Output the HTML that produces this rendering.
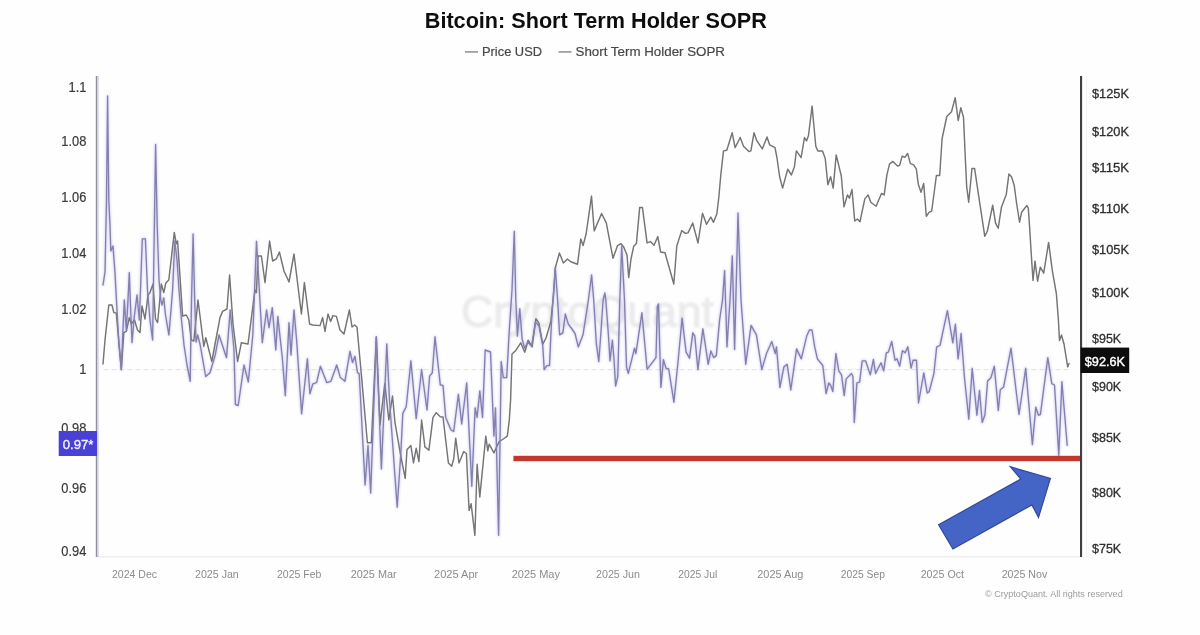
<!DOCTYPE html>
<html><head><meta charset="utf-8"><title>Bitcoin: Short Term Holder SOPR</title>
<style>
html,body{margin:0;padding:0;background:#fefefe;}
body{width:1200px;height:635px;overflow:hidden;font-family:"Liberation Sans",sans-serif;}
svg{display:block;position:absolute;left:0;top:0;}
text{font-family:"Liberation Sans",sans-serif;}
</style></head><body>
<svg width="1200" height="635" viewBox="0 0 1200 635">
<defs><filter id="b" x="-5%" y="-5%" width="110%" height="110%"><feGaussianBlur stdDeviation="0.45"/></filter>
<filter id="b3" x="-2%" y="-2%" width="104%" height="104%"><feGaussianBlur stdDeviation="0.7"/></filter>
<filter id="b2" x="-5%" y="-20%" width="110%" height="140%"><feGaussianBlur stdDeviation="1.1"/></filter></defs>
<rect x="0" y="0" width="1200" height="635" fill="#fefefe"/>

<text x="595.8" y="28.4" font-size="21.5" font-weight="bold" fill="#111" text-anchor="middle" textLength="342" lengthAdjust="spacingAndGlyphs" filter="url(#b)">Bitcoin: Short Term Holder SOPR</text>
<g filter="url(#b)" fill="#484848" stroke="#484848" stroke-width="0.2" font-size="13">
<rect x="465" y="51.4" width="13" height="1.1" fill="#666" stroke="none"/>
<text x="482" y="56.3" textLength="60" lengthAdjust="spacingAndGlyphs">Price USD</text>
<rect x="558.5" y="51.4" width="13" height="1.1" fill="#666" stroke="none"/>
<text x="575.5" y="56.3" textLength="149.5" lengthAdjust="spacingAndGlyphs">Short Term Holder SOPR</text>
</g>
<text x="461" y="326.7" font-size="44.7" fill="#ebebeb" stroke="#ebebeb" stroke-width="1.1" textLength="253" lengthAdjust="spacingAndGlyphs" filter="url(#b2)">CryptoQuant</text>
<line x1="103.5" y1="369.7" x2="1071.5" y2="369.7" stroke="#e5e5e5" stroke-width="1.2" stroke-dasharray="5 3"/>
<line x1="97" y1="556.8" x2="1081" y2="556.8" stroke="#ededed" stroke-width="1.2"/>
<g filter="url(#b)" fill="#3a3a3a" stroke="#3a3a3a" stroke-width="0.2" font-size="14.3" text-anchor="end">
<text transform="translate(86.4 92.0) scale(0.9 1)">1.1</text>
<text transform="translate(86.4 146.2) scale(0.9 1)">1.08</text>
<text transform="translate(86.4 201.6) scale(0.9 1)">1.06</text>
<text transform="translate(86.4 257.8) scale(0.9 1)">1.04</text>
<text transform="translate(86.4 314.0) scale(0.9 1)">1.02</text>
<text transform="translate(86.4 373.6) scale(0.9 1)">1</text>
<text transform="translate(86.4 432.6) scale(0.9 1)">0.98</text>
<text transform="translate(86.4 492.9) scale(0.9 1)">0.96</text>
<text transform="translate(86.4 555.6) scale(0.9 1)">0.94</text>
</g>
<g filter="url(#b)" fill="#2e2e2e" stroke="#2e2e2e" stroke-width="0.3" font-size="13">
<text x="1092" y="98.4" textLength="37" lengthAdjust="spacingAndGlyphs">$125K</text>
<text x="1092" y="135.7" textLength="37" lengthAdjust="spacingAndGlyphs">$120K</text>
<text x="1092" y="172.4" textLength="37" lengthAdjust="spacingAndGlyphs">$115K</text>
<text x="1092" y="213.0" textLength="37" lengthAdjust="spacingAndGlyphs">$110K</text>
<text x="1092" y="253.9" textLength="37" lengthAdjust="spacingAndGlyphs">$105K</text>
<text x="1092" y="297.2" textLength="37" lengthAdjust="spacingAndGlyphs">$100K</text>
<text x="1092" y="343.1" textLength="29.2" lengthAdjust="spacingAndGlyphs">$95K</text>
<text x="1092" y="390.8" textLength="29.2" lengthAdjust="spacingAndGlyphs">$90K</text>
<text x="1092" y="442.2" textLength="29.2" lengthAdjust="spacingAndGlyphs">$85K</text>
<text x="1092" y="496.5" textLength="29.2" lengthAdjust="spacingAndGlyphs">$80K</text>
<text x="1092" y="553.2" textLength="29.2" lengthAdjust="spacingAndGlyphs">$75K</text>
</g>
<g filter="url(#b)" fill="#8c8c8c" font-size="11.5">
<text x="112.0" y="578.4" textLength="45.0" lengthAdjust="spacingAndGlyphs">2024 Dec</text>
<text x="195.0" y="578.4" textLength="43.8" lengthAdjust="spacingAndGlyphs">2025 Jan</text>
<text x="277.0" y="578.4" textLength="44.3" lengthAdjust="spacingAndGlyphs">2025 Feb</text>
<text x="350.7" y="578.4" textLength="46.0" lengthAdjust="spacingAndGlyphs">2025 Mar</text>
<text x="434.0" y="578.4" textLength="44.3" lengthAdjust="spacingAndGlyphs">2025 Apr</text>
<text x="511.7" y="578.4" textLength="48.3" lengthAdjust="spacingAndGlyphs">2025 May</text>
<text x="596.0" y="578.4" textLength="44.0" lengthAdjust="spacingAndGlyphs">2025 Jun</text>
<text x="678.3" y="578.4" textLength="39.0" lengthAdjust="spacingAndGlyphs">2025 Jul</text>
<text x="757.3" y="578.4" textLength="46.0" lengthAdjust="spacingAndGlyphs">2025 Aug</text>
<text x="840.7" y="578.4" textLength="44.3" lengthAdjust="spacingAndGlyphs">2025 Sep</text>
<text x="920.7" y="578.4" textLength="43.3" lengthAdjust="spacingAndGlyphs">2025 Oct</text>
<text x="1001.7" y="578.4" textLength="45.6" lengthAdjust="spacingAndGlyphs">2025 Nov</text>
</g>
<text x="985" y="597.3" font-size="9.5" fill="#9c9c9c" textLength="137.7" lengthAdjust="spacingAndGlyphs" filter="url(#b)">© CryptoQuant. All rights reserved</text>
<g fill="none" stroke-linejoin="round" stroke-linecap="round" filter="url(#b3)">
<path d="M103.0 285.0 L105.0 272.0 L106.5 200.0 L107.6 96.0 L108.8 200.0 L110.0 225.0 L110.8 251.0 L113.0 246.0 L115.0 273.0 L117.0 310.0 L119.0 345.0 L121.3 369.0 L122.5 340.0 L124.3 300.0 L126.3 330.0 L128.0 300.0 L129.3 272.6 L130.5 305.0 L132.0 342.6 L134.5 315.0 L137.0 295.0 L139.3 320.0 L140.5 290.0 L142.3 238.8 L145.4 238.8 L147.5 290.0 L150.0 320.0 L152.6 340.0 L154.0 250.0 L155.6 144.5 L157.2 225.0 L159.0 280.0 L160.8 300.0 L162.0 305.0 L163.8 298.0 L165.5 315.0 L168.9 335.0 L171.0 310.0 L172.6 290.0 L174.8 241.0 L177.0 260.0 L179.0 290.0 L181.5 320.0 L184.0 345.0 L187.0 365.0 L190.2 381.3 L191.5 300.0 L193.1 234.0 L194.7 300.0 L196.0 342.0 L197.7 335.0 L200.2 345.0 L205.7 376.5 L210.0 372.7 L215.2 355.0 L219.0 335.0 L226.5 357.7 L230.2 310.0 L234.0 350.0 L235.4 404.5 L238.2 405.6 L244.0 365.0 L248.3 382.0 L252.8 335.0 L256.5 241.3 L262.3 342.7 L266.6 310.0 L269.0 327.7 L272.3 307.6 L275.8 350.0 L277.8 316.4 L282.3 357.7 L285.3 395.6 L289.0 322.6 L291.0 355.0 L294.0 310.0 L296.6 340.0 L301.6 413.9 L307.4 358.8 L309.9 393.8 L312.9 383.8 L316.6 382.6 L320.4 366.3 L326.7 382.6 L330.9 381.3 L336.7 365.0 L340.4 377.6 L344.9 381.3 L350.0 351.3 L352.5 362.5 L355.0 356.3 L357.5 372.6 L359.2 373.8 L365.1 485.0 L368.0 445.5 L370.7 493.0 L376.3 337.0 L381.4 469.0 L386.8 344.0 L389.5 400.0 L397.2 507.2 L400.8 453.5 L402.8 413.4 L406.2 406.7 L410.9 360.8 L416.2 418.7 L421.6 369.5 L427.0 410.0 L429.6 376.2 L432.3 372.8 L435.0 336.7 L440.3 384.9 L443.0 385.5 L445.7 417.4 L451.0 430.0 L453.7 431.5 L458.4 394.3 L461.7 424.0 L466.7 382.9 L471.8 486.4 L475.1 408.0 L477.1 417.4 L479.8 390.9 L482.5 417.4 L485.2 350.0 L490.5 352.0 L493.9 436.0 L495.5 408.0 L498.6 535.3 L501.2 361.5 L503.3 377.6 L506.7 377.6 L509.3 330.0 L512.0 290.0 L514.3 231.3 L515.8 300.0 L517.4 336.1 L519.8 308.7 L522.1 338.8 L524.5 348.0 L528.0 342.0 L531.5 346.0 L535.5 322.0 L539.0 326.0 L542.8 346.0 L544.2 369.6 L546.9 365.6 L549.5 365.6 L551.5 321.4 L555.3 267.6 L557.6 300.0 L559.6 334.8 L562.9 332.8 L565.3 314.0 L568.3 324.0 L572.3 329.5 L575.0 333.5 L578.3 346.9 L583.0 334.8 L588.4 300.0 L591.6 275.0 L593.7 300.0 L596.4 344.2 L598.8 361.6 L600.4 340.0 L603.1 300.0 L604.9 293.0 L605.8 300.0 L608.4 334.8 L610.0 360.9 L612.4 340.2 L613.8 356.2 L615.6 386.0 L617.8 376.3 L619.8 300.0 L621.7 246.3 L624.5 300.0 L626.5 367.0 L628.3 373.4 L631.9 358.9 L634.5 348.2 L635.9 353.5 L641.9 312.7 L647.1 369.3 L656.0 357.6 L657.3 306.7 L658.5 303.9 L660.9 387.4 L663.4 359.6 L666.1 368.3 L668.7 369.0 L673.9 402.2 L678.0 362.0 L682.1 318.1 L686.1 352.2 L689.5 358.2 L692.8 332.8 L694.8 336.1 L697.9 369.6 L702.9 328.8 L708.2 364.3 L710.9 350.9 L713.6 357.6 L716.3 355.6 L719.6 320.1 L722.5 300.0 L724.6 270.6 L727.0 346.9 L730.0 300.0 L732.3 255.9 L734.6 349.5 L738.0 213.0 L741.0 300.0 L745.7 364.3 L751.1 325.4 L756.4 334.8 L761.8 369.6 L766.5 353.5 L771.8 341.5 L775.2 353.5 L776.5 346.9 L779.9 387.5 L783.9 366.9 L787.2 364.3 L790.8 390.0 L796.6 348.9 L801.3 358.9 L806.7 336.1 L809.4 330.0 L812.0 330.0 L814.7 346.8 L817.4 358.8 L822.8 365.5 L826.1 393.6 L828.8 382.9 L830.8 385.6 L832.8 391.6 L835.9 353.5 L838.8 370.9 L841.5 374.9 L844.2 395.6 L846.2 378.9 L851.5 373.5 L852.9 376.2 L854.3 422.5 L856.9 382.9 L859.6 382.2 L862.2 360.8 L865.6 360.8 L870.3 374.9 L873.4 359.5 L875.6 373.5 L881.0 362.8 L883.7 370.9 L886.3 352.8 L888.4 352.1 L891.7 341.4 L895.0 360.2 L897.0 358.8 L899.7 366.2 L902.4 350.8 L905.1 352.8 L907.8 346.8 L911.1 368.2 L913.1 360.2 L916.5 360.2 L918.5 403.0 L923.8 372.9 L927.2 393.0 L929.2 391.6 L933.9 373.5 L936.7 346.9 L940.0 345.5 L947.4 310.7 L952.8 342.8 L955.4 324.1 L958.1 358.9 L961.1 333.5 L964.5 378.0 L968.8 419.2 L972.2 368.3 L976.9 415.2 L979.5 390.4 L982.2 422.5 L984.9 415.0 L987.6 381.0 L990.9 377.7 L994.3 366.3 L998.3 410.5 L1000.3 389.7 L1003.6 387.0 L1011.0 348.2 L1019.0 414.5 L1025.7 368.3 L1032.4 444.6 L1035.8 407.1 L1038.4 415.2 L1040.4 414.5 L1047.8 357.6 L1051.8 383.7 L1054.5 385.0 L1058.8 455.3 L1061.9 381.7 L1067.2 445.3" stroke="#b9b4f2" stroke-width="2.6" stroke-opacity="0.55" filter="url(#b2)"/>
<path d="M103.0 364.0 L105.0 340.0 L108.8 305.0 L112.0 305.0 L113.8 312.6 L116.3 313.0 L121.3 369.7 L123.8 332.6 L126.3 331.4 L129.3 317.6 L131.3 324.0 L134.5 320.0 L137.5 330.0 L140.0 332.6 L142.0 306.0 L145.0 319.0 L148.0 295.0 L150.0 292.6 L153.0 284.0 L155.5 319.0 L157.6 322.6 L161.3 284.0 L163.8 292.6 L165.8 283.0 L168.8 280.0 L174.3 232.5 L176.3 243.8 L177.6 241.0 L182.6 316.0 L186.3 315.0 L188.8 320.0 L191.3 340.0 L193.8 341.0 L198.0 300.0 L203.8 346.4 L205.8 337.7 L211.8 361.5 L220.0 317.6 L222.6 311.4 L227.0 309.0 L229.6 275.0 L233.0 324.0 L237.6 361.5 L241.4 342.7 L248.0 344.0 L255.0 290.0 L256.4 292.6 L258.0 256.0 L261.4 256.0 L265.0 282.6 L269.6 241.0 L272.6 261.0 L276.4 258.8 L279.4 252.0 L284.0 271.0 L289.0 282.0 L294.0 254.0 L301.4 314.0 L304.4 282.6 L309.6 324.0 L312.6 325.0 L320.0 325.6 L322.6 317.6 L325.0 331.4 L328.0 314.0 L330.6 321.4 L333.0 315.6 L336.4 316.4 L340.0 330.0 L344.0 334.0 L349.4 310.0 L352.0 327.0 L354.6 325.0 L357.0 327.0 L361.4 375.0 L367.4 442.8 L371.4 442.8 L376.3 337.0 L380.0 424.8 L384.8 383.5 L388.8 420.0 L392.5 396.0 L395.0 422.6 L400.8 456.2 L405.2 478.4 L407.0 449.5 L410.9 445.5 L413.5 462.9 L416.2 448.2 L418.9 461.6 L421.6 420.0 L424.9 446.9 L428.9 450.2 L433.0 417.4 L436.3 412.7 L440.3 416.7 L443.0 417.0 L448.4 463.0 L451.7 466.3 L453.7 459.0 L455.7 438.2 L459.0 463.0 L463.7 451.5 L466.4 453.5 L469.1 510.5 L471.1 503.8 L474.9 535.3 L477.1 464.3 L479.8 497.0 L485.8 436.1 L487.8 450.9 L489.2 444.2 L493.9 452.9 L499.2 441.5 L502.6 439.5 L507.3 436.1 L509.3 420.0 L510.6 400.0 L512.0 354.0 L516.0 350.2 L520.7 342.8 L524.8 352.2 L528.1 340.2 L532.1 346.9 L535.9 318.7 L538.8 322.8 L542.8 344.2 L546.0 338.0 L550.9 321.4 L553.5 295.0 L555.3 268.0 L559.4 253.0 L563.4 263.0 L567.4 259.0 L570.8 261.7 L577.5 264.3 L580.8 238.9 L583.1 245.6 L586.2 233.5 L591.5 196.1 L594.2 230.9 L601.6 213.5 L606.3 222.8 L613.0 258.3 L617.6 245.6 L621.0 243.6 L623.7 247.0 L627.0 255.0 L628.7 277.6 L631.0 259.0 L633.7 246.3 L636.4 243.6 L639.7 207.4 L642.4 207.4 L647.1 242.9 L650.4 241.6 L654.0 245.2 L657.8 236.6 L660.6 252.0 L665.0 252.8 L673.8 284.0 L676.8 246.0 L681.7 230.6 L685.4 233.3 L688.0 232.9 L692.7 223.0 L698.0 243.0 L702.5 213.3 L706.5 224.3 L710.8 217.0 L713.5 222.3 L716.8 214.0 L718.8 197.5 L720.8 175.0 L723.5 150.9 L726.8 150.2 L732.2 132.8 L735.1 147.6 L740.2 137.5 L743.5 146.2 L748.9 151.6 L750.9 150.9 L754.0 132.8 L756.9 140.9 L762.3 148.9 L767.0 136.9 L769.7 144.9 L775.0 147.6 L777.0 158.0 L779.7 177.0 L782.6 188.1 L787.7 169.2 L791.4 175.0 L794.4 166.7 L796.4 150.9 L801.1 157.6 L804.5 137.5 L806.5 140.9 L808.5 135.5 L812.1 106.1 L815.8 146.2 L817.8 150.9 L822.5 150.9 L825.2 158.3 L827.9 184.8 L830.6 176.7 L833.2 188.1 L836.2 154.9 L841.3 176.0 L844.0 206.9 L847.4 194.9 L849.4 198.2 L852.0 189.5 L854.7 221.0 L857.4 219.0 L860.0 221.7 L864.8 198.9 L868.1 194.9 L870.8 202.2 L876.1 206.3 L881.5 193.5 L884.2 194.9 L886.9 174.8 L889.5 164.1 L892.9 161.4 L897.6 166.1 L899.6 165.4 L902.2 156.1 L904.9 157.4 L907.6 153.4 L910.3 163.4 L913.6 164.8 L916.3 168.8 L918.3 184.2 L921.0 192.2 L923.7 183.5 L926.3 216.3 L929.0 212.3 L931.7 211.0 L936.4 175.5 L939.7 175.5 L942.1 138.5 L946.8 116.5 L951.5 111.8 L955.2 97.7 L958.2 120.5 L960.8 107.8 L963.5 117.1 L965.4 160.0 L966.7 186.8 L968.7 202.2 L972.0 168.4 L974.6 168.4 L978.7 196.1 L984.8 236.3 L987.4 231.0 L992.7 205.2 L995.5 222.9 L998.2 228.3 L1001.5 206.9 L1006.2 194.8 L1008.9 174.1 L1011.5 176.7 L1014.2 185.4 L1016.9 205.5 L1019.6 222.2 L1021.6 212.2 L1026.9 205.5 L1028.3 208.2 L1029.6 226.9 L1031.0 250.0 L1033.0 280.5 L1035.0 261.1 L1037.6 281.2 L1040.3 267.1 L1043.7 273.2 L1048.6 242.4 L1052.4 271.1 L1056.4 293.9 L1058.4 320.0 L1059.5 340.5 L1061.5 335.0 L1064.0 344.0 L1067.7 366.9 L1069.0 363.5" stroke="#747476" stroke-width="1.45"/>
<path d="M103.0 285.0 L105.0 272.0 L106.5 200.0 L107.6 96.0 L108.8 200.0 L110.0 225.0 L110.8 251.0 L113.0 246.0 L115.0 273.0 L117.0 310.0 L119.0 345.0 L121.3 369.0 L122.5 340.0 L124.3 300.0 L126.3 330.0 L128.0 300.0 L129.3 272.6 L130.5 305.0 L132.0 342.6 L134.5 315.0 L137.0 295.0 L139.3 320.0 L140.5 290.0 L142.3 238.8 L145.4 238.8 L147.5 290.0 L150.0 320.0 L152.6 340.0 L154.0 250.0 L155.6 144.5 L157.2 225.0 L159.0 280.0 L160.8 300.0 L162.0 305.0 L163.8 298.0 L165.5 315.0 L168.9 335.0 L171.0 310.0 L172.6 290.0 L174.8 241.0 L177.0 260.0 L179.0 290.0 L181.5 320.0 L184.0 345.0 L187.0 365.0 L190.2 381.3 L191.5 300.0 L193.1 234.0 L194.7 300.0 L196.0 342.0 L197.7 335.0 L200.2 345.0 L205.7 376.5 L210.0 372.7 L215.2 355.0 L219.0 335.0 L226.5 357.7 L230.2 310.0 L234.0 350.0 L235.4 404.5 L238.2 405.6 L244.0 365.0 L248.3 382.0 L252.8 335.0 L256.5 241.3 L262.3 342.7 L266.6 310.0 L269.0 327.7 L272.3 307.6 L275.8 350.0 L277.8 316.4 L282.3 357.7 L285.3 395.6 L289.0 322.6 L291.0 355.0 L294.0 310.0 L296.6 340.0 L301.6 413.9 L307.4 358.8 L309.9 393.8 L312.9 383.8 L316.6 382.6 L320.4 366.3 L326.7 382.6 L330.9 381.3 L336.7 365.0 L340.4 377.6 L344.9 381.3 L350.0 351.3 L352.5 362.5 L355.0 356.3 L357.5 372.6 L359.2 373.8 L365.1 485.0 L368.0 445.5 L370.7 493.0 L376.3 337.0 L381.4 469.0 L386.8 344.0 L389.5 400.0 L397.2 507.2 L400.8 453.5 L402.8 413.4 L406.2 406.7 L410.9 360.8 L416.2 418.7 L421.6 369.5 L427.0 410.0 L429.6 376.2 L432.3 372.8 L435.0 336.7 L440.3 384.9 L443.0 385.5 L445.7 417.4 L451.0 430.0 L453.7 431.5 L458.4 394.3 L461.7 424.0 L466.7 382.9 L471.8 486.4 L475.1 408.0 L477.1 417.4 L479.8 390.9 L482.5 417.4 L485.2 350.0 L490.5 352.0 L493.9 436.0 L495.5 408.0 L498.6 535.3 L501.2 361.5 L503.3 377.6 L506.7 377.6 L509.3 330.0 L512.0 290.0 L514.3 231.3 L515.8 300.0 L517.4 336.1 L519.8 308.7 L522.1 338.8 L524.5 348.0 L528.0 342.0 L531.5 346.0 L535.5 322.0 L539.0 326.0 L542.8 346.0 L544.2 369.6 L546.9 365.6 L549.5 365.6 L551.5 321.4 L555.3 267.6 L557.6 300.0 L559.6 334.8 L562.9 332.8 L565.3 314.0 L568.3 324.0 L572.3 329.5 L575.0 333.5 L578.3 346.9 L583.0 334.8 L588.4 300.0 L591.6 275.0 L593.7 300.0 L596.4 344.2 L598.8 361.6 L600.4 340.0 L603.1 300.0 L604.9 293.0 L605.8 300.0 L608.4 334.8 L610.0 360.9 L612.4 340.2 L613.8 356.2 L615.6 386.0 L617.8 376.3 L619.8 300.0 L621.7 246.3 L624.5 300.0 L626.5 367.0 L628.3 373.4 L631.9 358.9 L634.5 348.2 L635.9 353.5 L641.9 312.7 L647.1 369.3 L656.0 357.6 L657.3 306.7 L658.5 303.9 L660.9 387.4 L663.4 359.6 L666.1 368.3 L668.7 369.0 L673.9 402.2 L678.0 362.0 L682.1 318.1 L686.1 352.2 L689.5 358.2 L692.8 332.8 L694.8 336.1 L697.9 369.6 L702.9 328.8 L708.2 364.3 L710.9 350.9 L713.6 357.6 L716.3 355.6 L719.6 320.1 L722.5 300.0 L724.6 270.6 L727.0 346.9 L730.0 300.0 L732.3 255.9 L734.6 349.5 L738.0 213.0 L741.0 300.0 L745.7 364.3 L751.1 325.4 L756.4 334.8 L761.8 369.6 L766.5 353.5 L771.8 341.5 L775.2 353.5 L776.5 346.9 L779.9 387.5 L783.9 366.9 L787.2 364.3 L790.8 390.0 L796.6 348.9 L801.3 358.9 L806.7 336.1 L809.4 330.0 L812.0 330.0 L814.7 346.8 L817.4 358.8 L822.8 365.5 L826.1 393.6 L828.8 382.9 L830.8 385.6 L832.8 391.6 L835.9 353.5 L838.8 370.9 L841.5 374.9 L844.2 395.6 L846.2 378.9 L851.5 373.5 L852.9 376.2 L854.3 422.5 L856.9 382.9 L859.6 382.2 L862.2 360.8 L865.6 360.8 L870.3 374.9 L873.4 359.5 L875.6 373.5 L881.0 362.8 L883.7 370.9 L886.3 352.8 L888.4 352.1 L891.7 341.4 L895.0 360.2 L897.0 358.8 L899.7 366.2 L902.4 350.8 L905.1 352.8 L907.8 346.8 L911.1 368.2 L913.1 360.2 L916.5 360.2 L918.5 403.0 L923.8 372.9 L927.2 393.0 L929.2 391.6 L933.9 373.5 L936.7 346.9 L940.0 345.5 L947.4 310.7 L952.8 342.8 L955.4 324.1 L958.1 358.9 L961.1 333.5 L964.5 378.0 L968.8 419.2 L972.2 368.3 L976.9 415.2 L979.5 390.4 L982.2 422.5 L984.9 415.0 L987.6 381.0 L990.9 377.7 L994.3 366.3 L998.3 410.5 L1000.3 389.7 L1003.6 387.0 L1011.0 348.2 L1019.0 414.5 L1025.7 368.3 L1032.4 444.6 L1035.8 407.1 L1038.4 415.2 L1040.4 414.5 L1047.8 357.6 L1051.8 383.7 L1054.5 385.0 L1058.8 455.3 L1061.9 381.7 L1067.2 445.3" stroke="#8381ac" stroke-width="1.35"/>
</g>
<rect x="95.8" y="76" width="1.5" height="481" fill="#8f8f9d" filter="url(#b)"/>
<rect x="97.3" y="76" width="1.3" height="481" fill="#cacade" filter="url(#b)"/>
<rect x="1080" y="76" width="2.1" height="481" fill="#404040" filter="url(#b)"/><rect x="1086" y="76" width="1" height="481" fill="#f1f1f1"/>
<rect x="513.4" y="455.8" width="566.6" height="5.4" fill="#c3382c" filter="url(#b)"/>
<polygon points="952.9,549 938.6,524.7 1020.8,479.1 1010.3,466.7 1050.4,478.4 1038.5,517.5 1031.9,504.9" fill="#4565c6" stroke="#34499a" stroke-width="1.2" stroke-linejoin="miter" filter="url(#b)"/>
<rect x="58.7" y="431" width="38.3" height="25" fill="#4a3fd8" filter="url(#b)"/>
<text x="62.8" y="449.4" font-size="13" fill="#f4f2ff" stroke="#f4f2ff" stroke-width="0.35" textLength="30.7" lengthAdjust="spacingAndGlyphs" filter="url(#b)">0.97*</text>
<rect x="1080.8" y="347.6" width="48.4" height="25.4" fill="#0c0c0c" filter="url(#b)"/>
<text x="1084.8" y="366.4" font-size="13.5" fill="#ffffff" stroke="#ffffff" stroke-width="0.4" textLength="40.2" lengthAdjust="spacingAndGlyphs" filter="url(#b)">$92.6K</text>
</svg></body></html>
